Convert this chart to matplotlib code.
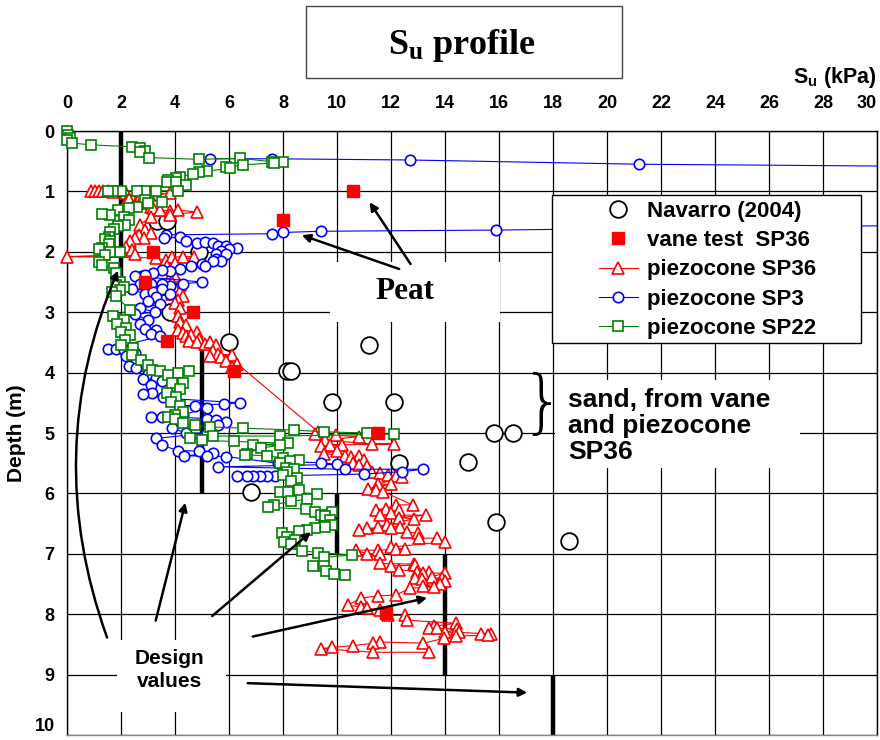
import matplotlib
matplotlib.use('Agg')
import matplotlib.pyplot as plt
from matplotlib.patches import Rectangle

plt.rcParams.update({
    'font.family': ['Liberation Sans', 'DejaVu Sans'],
    'font.weight': 'bold',
    'mathtext.fontset': 'custom',
    'mathtext.rm': 'Liberation Serif:bold',
    'mathtext.bf': 'Liberation Sans:bold',
})

# ---- data ----
navarro_su = [3.33, 3.7, 4.9, 2.8, 3.8, 6.0, 11.2, 8.15, 8.3, 9.8, 12.1,
              15.8, 16.5, 12.3, 14.85, 6.8, 15.9, 18.6]
navarro_depth = [1.49, 1.49, 2.0, 2.45, 3.0, 3.5, 3.55, 3.98, 3.98, 4.48, 4.48,
                 5.0, 5.0, 5.5, 5.48, 5.98, 6.47, 6.79]

vane_su = [10.6, 8.0, 3.2, 2.9, 4.65, 3.7, 6.2, 11.5, 11.8]
vane_depth = [1.0, 1.47, 2.0, 2.5, 3.0, 3.48, 3.97, 5.0, 7.98]

sp36_su = [0.9, 1.05, 1.2, 1.35, 1.5, 1.7, 2.2, 2.45, 2.2, 3.05, 3.8, 2.7, 2.3,
           2.7, 2.5, 3.1, 3.2, 3.45, 3.8, 4.1, 4.8, 3.8, 3.1, 2.7, 2.9, 3.1,
           2.65, 2.85, 2.5, 2.35, 2.2, 2.4, 2.5, 0.0, 3.3, 3.65, 3.9, 4.3, 4.7,
           4.0, 3.7, 3.9, 4.0, 3.9, 4.2, 4.0, 4.2, 3.9, 4.3, 4.1, 4.0, 4.2,
           4.1, 4.2, 4.4, 4.1, 4.3, 4.4, 4.8, 4.6, 4.9, 4.5, 4.8, 5.1, 5.3,
           5.5, 5.4, 5.6, 6.1, 5.3, 5.7, 5.9, 6.1, 6.3, 9.3, 9.95, 9.2, 10.8,
           9.55, 11.3, 12.1, 9.75, 10.2, 9.4, 10.0, 9.5, 10.3, 10.8, 10.5,
           11.0, 10.6, 10.8, 11.1, 11.3, 11.6, 11.9, 12.2, 12.4, 11.5, 12.0,
           11.15, 11.45, 11.7, 12.8, 12.2, 11.8, 11.45, 12.3, 12.0, 11.6,
           13.3, 12.3, 12.85, 11.85, 11.5, 12.35, 11.1, 12.0, 10.8, 12.6,
           13.0, 13.05, 13.7, 14.0, 12.0, 12.2, 12.5, 11.5, 10.7, 11.1, 11.6,
           11.6, 12.85, 12.9, 12.0, 12.3, 12.95, 13.4, 13.2, 14.0, 13.5, 12.9,
           13.9, 13.15, 14.0, 13.8, 13.2, 13.6, 12.7, 12.2, 11.5, 10.9, 10.4,
           10.9, 11.1, 11.6, 11.9, 12.5, 12.6, 14.4, 13.6, 13.4, 13.7, 14.45,
           14.0, 14.5, 15.35, 15.7, 15.6, 14.4, 13.95, 13.2, 11.6, 11.35,
           10.6, 9.8, 9.4, 11.35, 13.4]
sp36_depth = [1.0, 1.0, 1.0, 1.0, 1.0, 1.01, 1.02, 1.15, 1.17, 1.05, 1.03,
              1.1, 1.13, 1.2, 1.23, 1.25, 1.28, 1.3, 1.33, 1.31, 1.34, 1.39,
              1.42, 1.55, 1.64, 1.69, 1.72, 1.77, 1.77, 1.82, 1.92, 1.97, 2.04,
              2.08, 2.1, 2.14, 2.09, 2.08, 2.08, 2.19, 2.24, 2.35, 2.4, 2.5,
              2.55, 2.6, 2.65, 2.7, 2.73, 2.8, 2.85, 2.93, 3.06, 3.17, 3.22,
              3.3, 3.35, 3.4, 3.33, 3.38, 3.44, 3.48, 3.5, 3.53, 3.5, 3.55,
              3.64, 3.69, 3.71, 3.72, 3.74, 3.8, 3.9, 3.85, 4.98, 5.04, 5.02,
              5.06, 5.12, 5.18, 5.18, 5.2, 5.2, 5.22, 5.3, 5.34, 5.38, 5.38,
              5.4, 5.45, 5.5, 5.53, 5.55, 5.65, 5.67, 5.7, 5.72, 5.73, 5.85,
              5.85, 5.92, 5.95, 5.97, 6.19, 6.19, 6.25, 6.27, 6.27, 6.33, 6.36,
              6.36, 6.4, 6.42, 6.52, 6.55, 6.55, 6.58, 6.58, 6.6, 6.64, 6.66,
              6.74, 6.74, 6.8, 6.89, 6.92, 6.92, 6.94, 6.94, 7.0, 7.0, 7.16,
              7.17, 7.19, 7.2, 7.26, 7.3, 7.3, 7.32, 7.32, 7.38, 7.4, 7.4, 7.42,
              7.45, 7.5, 7.53, 7.55, 7.57, 7.68, 7.7, 7.73, 7.85, 7.88, 7.9,
              7.93, 8.02, 8.02, 8.1, 8.15, 8.2, 8.23, 8.23, 8.25, 8.3, 8.3,
              8.32, 8.32, 8.35, 8.36, 8.4, 8.48, 8.46, 8.48, 8.52, 8.55, 8.57,
              8.63, 8.63]

sp3_su = [5.3, 7.6, 12.7, 21.2, 148.0, 15.9, 9.4, 8.0, 7.6, 3.67, 3.6, 4.2,
          4.4, 4.8, 5.1, 5.4, 5.6, 5.9, 6.3, 6.0, 5.7, 5.5, 5.9, 5.5, 5.7, 5.4,
          5.0, 5.1, 4.6, 4.2, 3.8, 3.5, 3.2, 2.9, 2.5, 5.0, 4.3, 3.8, 3.5, 3.1,
          2.7, 2.4, 2.9, 3.2, 3.5, 3.8, 3.3, 3.0, 3.45, 2.7, 3.25, 2.5, 3.0,
          2.7, 2.9, 3.3, 3.1, 3.45, 1.5, 1.8, 2.1, 2.5, 2.2, 2.55, 2.3, 2.55,
          3.0, 3.3, 2.8, 3.5, 3.1, 3.15, 2.8, 3.55, 3.85, 6.4, 5.8, 4.15, 4.75,
          5.2, 4.3, 3.1, 3.5, 5.2, 5.5, 5.9, 5.6, 3.9, 4.4, 5.2, 3.3, 3.5, 4.1,
          4.9, 5.4, 4.35, 5.2, 5.9, 7.8, 8.2, 9.4, 10.0, 5.6, 10.3, 13.2, 12.4,
          11.0, 7.7, 7.4, 7.15, 6.9, 6.65, 6.3]
sp3_depth = [0.46, 0.46, 0.48, 0.55, 0.98, 1.64, 1.66, 1.68, 1.7, 1.72, 1.77,
             1.76, 1.82, 1.85, 1.84, 1.86, 1.9, 1.9, 1.94, 1.96, 1.99, 2.04,
             2.04, 2.12, 2.15, 2.16, 2.2, 2.24, 2.24, 2.28, 2.32, 2.3, 2.35,
             2.38, 2.4, 2.5, 2.53, 2.56, 2.53, 2.54, 2.53, 2.62, 2.7, 2.67,
             2.62, 2.7, 2.75, 2.82, 2.87, 2.93, 3.0, 3.03, 3.13, 3.2, 3.27, 3.3,
             3.36, 3.4, 3.61, 3.61, 3.63, 3.67, 3.72, 3.81, 3.89, 3.92, 4.03,
             4.09, 4.11, 4.14, 4.2, 4.33, 4.36, 4.4, 4.43, 4.5, 4.52, 4.55, 4.56,
             4.58, 4.7, 4.73, 4.73, 4.76, 4.79, 4.82, 4.86, 4.92, 5.0, 5.0, 5.09,
             5.2, 5.29, 5.3, 5.33, 5.38, 5.38, 5.39, 5.5, 5.48, 5.49, 5.52, 5.56,
             5.6, 5.6, 5.64, 5.68, 5.71, 5.71, 5.71, 5.71, 5.71, 5.71]

sp22_su = [0.0, 0.05, 0.1, 0.0, 0.2, 0.9, 2.4, 2.7, 2.9, 2.7, 3.05, 4.9, 6.4,
           7.6, 8.0, 7.65, 6.5, 5.9, 6.05, 5.2, 4.9, 4.65, 4.2, 4.05, 3.75, 3.7,
           4.05, 4.4, 4.12, 3.3, 2.9, 2.6, 2.0, 1.7, 1.5, 3.5, 2.9, 3.0, 2.6,
           2.3, 1.9, 1.6, 1.3, 2.1, 2.3, 2.15, 1.9, 1.75, 1.6, 1.55, 1.4, 1.6,
           1.55, 1.3, 1.2, 1.95, 1.6, 1.4, 1.2, 1.3, 1.75, 1.8, 1.95, 1.8, 2.1,
           1.95, 1.65, 1.8, 2.35, 1.7, 2.1, 1.85, 2.2, 2.0, 2.35, 2.15, 2.0,
           2.45, 2.4, 2.75, 3.0, 3.15, 3.45, 4.5, 4.1, 3.75, 4.3, 3.9, 4.2, 3.7,
           4.05, 3.85, 4.2, 4.3, 4.0, 3.75, 4.0, 4.3, 4.75, 5.3, 6.5, 8.4, 9.5,
           11.1, 12.1, 7.9, 5.4, 4.55, 5.0, 6.2, 8.2, 6.9, 7.9, 7.2, 6.65, 6.6,
           7.4, 8.0, 8.6, 8.25, 7.9, 8.1, 8.4, 8.15, 8.0, 8.5, 8.3, 8.6, 7.9,
           8.2, 9.25, 8.9, 8.3, 7.65, 7.45, 8.85, 9.2, 9.8, 9.4, 9.55, 9.75,
           9.8, 9.5, 9.55, 9.2, 8.9, 8.6, 7.95, 8.15, 8.45, 8.05, 8.3, 8.7, 9.3,
           10.55, 9.5, 9.1, 9.5, 9.6, 9.9, 10.3]
sp22_depth = [0.0, 0.07, 0.12, 0.15, 0.2, 0.23, 0.26, 0.28, 0.33, 0.35, 0.44,
              0.47, 0.45, 0.51, 0.51, 0.53, 0.56, 0.6, 0.62, 0.66, 0.68, 0.71,
              0.76, 0.78, 0.81, 0.84, 0.84, 0.89, 0.99, 0.99, 0.99, 0.99, 0.99,
              0.99, 0.99, 1.17, 1.15, 1.2, 1.25, 1.28, 1.3, 1.39, 1.38, 1.42,
              1.47, 1.55, 1.57, 1.62, 1.68, 1.75, 1.78, 1.82, 1.87, 1.93, 1.95,
              2.0, 2.0, 2.06, 2.17, 2.22, 2.27, 2.35, 2.5, 2.55, 2.58, 2.63,
              2.66, 2.74, 2.96, 3.07, 3.13, 3.2, 3.26, 3.33, 3.38, 3.46, 3.54,
              3.6, 3.71, 3.79, 3.87, 3.95, 3.98, 3.98, 4.01, 4.04, 4.18, 4.18,
              4.27, 4.33, 4.4, 4.49, 4.55, 4.65, 4.7, 4.73, 4.76, 4.84, 4.87,
              4.9, 4.92, 4.95, 4.98, 5.0, 5.02, 5.05, 5.05, 5.09, 5.12, 5.14,
              5.17, 5.2, 5.2, 5.25, 5.34, 5.36, 5.38, 5.41, 5.44, 5.47, 5.5,
              5.58, 5.6, 5.64, 5.7, 5.75, 5.8, 5.94, 5.97, 5.97, 6.01, 6.1, 6.13,
              6.19, 6.23, 6.26, 6.3, 6.3, 6.36, 6.38, 6.44, 6.52, 6.54, 6.55,
              6.57, 6.6, 6.63, 6.66, 6.72, 6.77, 6.8, 6.83, 6.95, 6.98, 7.02,
              7.06, 7.2, 7.2, 7.28, 7.33, 7.35]

design_su = [2, 5, 10, 14, 18]
design_top = [0, 3.5, 6, 7, 9]
design_bottom = [2.5, 6, 7, 9, 10]

xticks = list(range(0, 31, 2))
yticks = list(range(0, 11))

# ---- figure ----
fig = plt.figure(figsize=(8.8, 7.4), dpi=100)
ax = fig.add_axes([67 / 880, 5 / 740, 810 / 880, 604 / 740])
ax.set_xlim(0, 30)
ax.set_ylim(10, 0)
ax.xaxis.tick_top()
ax.set_xticks(xticks)
ax.set_yticks(yticks)
for lab in ax.get_xticklabels() + ax.get_yticklabels():
    lab.set_fontsize(13)
    lab.set_fontweight('bold')
# keep the edge labels inside the picture
ax.get_xticklabels()[-1].set_horizontalalignment('right')
ax.get_yticklabels()[-1].set_verticalalignment('bottom')
ax.tick_params(axis='x', length=0, pad=14)
ax.tick_params(axis='y', length=0, pad=9)
ax.grid(True, color='black', linewidth=0.9)
ax.set_axisbelow(True)
for sp in ax.spines.values():
    sp.set_color('black')
    sp.set_linewidth(1.0)
ax.spines['bottom'].set_color('#888888')

ax.set_ylabel('Depth (m)', fontsize=15, fontweight='bold', labelpad=6)

# white boxes that hide the grid behind the notes
for (x0, d0, x1, d1) in [(9.74, 2.17, 16.04, 3.16), (18.07, 4.12, 27.15, 5.58),
                         (1.85, 8.43, 5.89, 9.62)]:
    ax.add_patch(Rectangle((x0, d0), x1 - x0, d1 - d0, facecolor='white',
                           edgecolor='none', zorder=1))

# design values
ax.vlines(design_su, design_top, design_bottom, colors='black', linewidth=3.2, zorder=2)

h_nav, = ax.plot(navarro_su, navarro_depth, 'o', ms=12, mfc='white', mec='black',
                 mew=1.3, zorder=3)
h36, = ax.plot(sp36_su, sp36_depth, '-^', color='red', lw=0.8, ms=9, mfc='white',
               mec='red', mew=1.2, zorder=4, clip_on=False)
h3, = ax.plot(sp3_su, sp3_depth, '-o', color='blue', lw=0.8, ms=7.5, mfc='white',
              mec='blue', mew=1.2, zorder=5)
h22, = ax.plot(sp22_su, sp22_depth, '-s', color='green', lw=0.8, ms=7, mfc='white',
               mec='green', mew=1.2, zorder=6, clip_on=False)
h_vane, = ax.plot(vane_su, vane_depth, 's', ms=9, color='red', zorder=7)

# legend: own frame, entries centred inside it as in the reference
ax.add_patch(Rectangle((552 / 880, 1 - 343 / 740), 309 / 880, 148 / 740,
                       transform=fig.transFigure, facecolor='white',
                       edgecolor='black', linewidth=1.0, zorder=9, clip_on=False))
leg = ax.legend([h_nav, h_vane, h36, h3, h22],
                ['Navarro (2004)', 'vane test  SP36', 'piezocone SP36',
                 'piezocone SP3', 'piezocone SP22'],
                loc='upper left', bbox_to_anchor=(599 / 880, 1 - 201 / 740),
                bbox_transform=fig.transFigure, frameon=False,
                prop={'size': 16, 'weight': 'bold'},
                handlelength=1.75, labelspacing=0.37, borderpad=0,
                handletextpad=0.4, borderaxespad=0)
leg.set_zorder(10)

# annotations
arrow = dict(arrowstyle='-|>', color='black', lw=1.8, mutation_scale=12)
ax.text(12.5, 2.65, 'Peat', family='Liberation Serif', fontsize=22.5,
        fontweight='bold', ha='center', va='center', zorder=8)
ax.annotate('', xy=(11.15, 1.14), xytext=(12.78, 2.24), arrowprops=arrow, zorder=8)
ax.annotate('', xy=(8.6, 1.71), xytext=(12.4, 2.3), arrowprops=arrow, zorder=8)

ax.text(17.6, 4.55, '}', family='DejaVu Sans', fontsize=50, fontweight='light',
        ha='center', va='center', zorder=8)
ax.text(18.56, 4.88, 'sand, from vane\nand piezocone\nSP36', fontsize=19,
        fontweight='bold', ha='left', va='center', linespacing=1.1, zorder=8)

ax.text(3.81, 8.93, 'Design\nvalues', fontsize=15, fontweight='bold',
        ha='center', va='center', linespacing=1.25, zorder=8)
ax.annotate('', xy=(1.93, 2.27), xytext=(1.52, 8.43),
            arrowprops=dict(arrow, connectionstyle='arc3,rad=-0.2'), zorder=8)
for start, end in [((3.26, 8.15), (4.41, 6.11)), ((5.3, 8.06), (9.11, 6.61)),
                   ((6.78, 8.38), (13.44, 7.72)), ((6.59, 9.14), (17.15, 9.3))]:
    ax.annotate('', xy=end, xytext=start, arrowprops=arrow, zorder=8)

# title box and axis label at the top
fig.patches.append(Rectangle((306 / 880, 1 - 78 / 740), 316 / 880, 72 / 740,
                             transform=fig.transFigure, facecolor='white',
                             edgecolor='#444444', linewidth=1.0))
fig.text(462 / 880, 1 - 45 / 740, r'$\mathrm{S_u}$ profile', family='Liberation Serif',
         fontsize=26, fontweight='bold', ha='center', va='center')
fig.text(877 / 880, 1 - 78 / 740, r'$\mathbf{S_u}$ (kPa)', fontsize=15.5,
         fontweight='bold', ha='right', va='center')

fig.savefig('out.png', dpi=100)
